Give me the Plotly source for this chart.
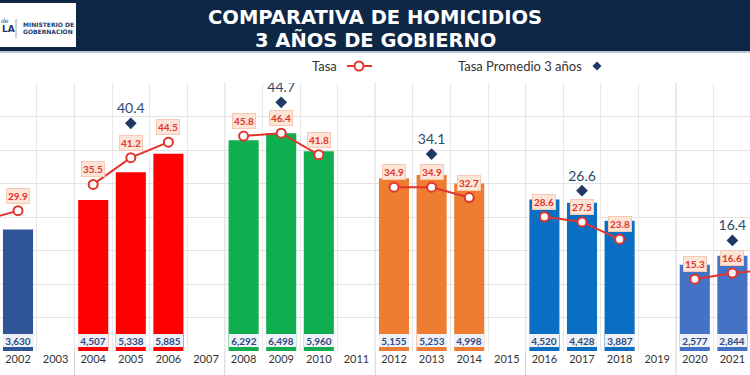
import plotly.graph_objects as go

# ---------------- data ----------------
years = [str(y) for y in range(2001, 2023)]
homicides = [None, 3630, None, 4507, 5338, 5885, None, 6292, 6498, 5960, None,
             5155, 5253, 4998, None, 4520, 4428, 3887, None, 2577, 2844, None]
rate = [27.6, 29.9, None, 35.5, 41.2, 44.5, None, 45.8, 46.4, 41.8, None,
        34.9, 34.9, 32.7, None, 28.6, 27.5, 23.8, None, 15.3, 16.6, 17.3]
avg_rate = [None, None, None, None, 40.4, None, None, None, 44.7, None, None,
            None, 34.1, None, None, None, 26.6, None, None, None, 16.4, None]
group_colors = ["#2F5597", "#2F5597", "#FFFFFF", "#FF0000", "#FF0000", "#FF0000", "#FFFFFF",
                "#0FAF4F", "#0FAF4F", "#0FAF4F", "#FFFFFF", "#EE7D31", "#EE7D31", "#EE7D31",
                "#FFFFFF", "#0A6FC2", "#0A6FC2", "#0A6FC2", "#FFFFFF", "#4472C4", "#4472C4", "#4472C4"]
separators = [2.5, 6.5, 10.5, 14.5, 18.5]

title_lines = ["COMPARATIVA DE HOMICIDIOS", "3 AÑOS DE GOBIERNO"]

# ---------------- geometry helpers ----------------
W, H = 750, 375
T, B = 83, 24
PH = H - T - B


def py(Y):
    return (H - B - Y) / PH


def px(X):
    return X / W


FONT = "Lato"
RED = "#E3342C"
NAVY = "#1F3864"

fig = go.Figure()
fig.add_trace(go.Bar(x=years, y=homicides, marker=dict(color=group_colors, line=dict(width=0)),
                     width=0.8, yaxis="y", hoverinfo="skip"))
fig.add_trace(go.Scatter(x=years, y=rate, yaxis="y2", mode="lines+markers", connectgaps=False,
                         line=dict(color=RED, width=2),
                         marker=dict(symbol="circle", size=9, color="white",
                                     line=dict(color=RED, width=2))))
fig.add_trace(go.Scatter(x=years, y=avg_rate, yaxis="y3", mode="markers+text",
                         marker=dict(symbol="diamond", size=9, color=NAVY),
                         text=[("%.1f" % v) if v is not None else "" for v in avg_rate],
                         textposition="top center",
                         textfont=dict(family=FONT, size=14, color="#2E4A6E")))

ann = []
# rate labels
for i, r in enumerate(rate):
    if r is None:
        continue
    ann.append(dict(x=i, y=r, xref="x", yref="y2", yshift=15, yanchor="middle", xanchor="center",
                    showarrow=False,
                    text="<b>%.1f</b>" % r, bgcolor="#FCE4D6", bordercolor="#F6C9B5",
                    borderwidth=1, borderpad=1,
                    font=dict(family=FONT, size=10, color="#E0352B")))
# bar value labels
for i, v in enumerate(homicides):
    if v is None:
        continue
    ann.append(dict(x=i, y=0, xref="x", yref="y", yanchor="bottom", xanchor="center", yshift=4,
                    showarrow=False,
                    text="<b>{:,}</b>".format(v), bgcolor="#EEF1F7", borderwidth=0, borderpad=0,
                    width=30, height=13,
                    font=dict(family=FONT, size=10, color="#2F4A80")))
# title
for k, yy in enumerate([17, 40]):
    ann.append(dict(x=0.5, y=py(yy), xref="paper", yref="paper", showarrow=False,
                    xanchor="center", yanchor="middle",
                    text="<b>%s</b>" % title_lines[k],
                    font=dict(family="DejaVu Sans", size=19.5, color="white")))
# logo texts
logo = [("<b>MINISTERIO DE</b>", 21, 24, 6, "left"), ("<b>GOBERNACIÓN</b>", 21, 31.5, 6, "left"),
        ("<b>LA</b>", 0, 29, 9, "left"), ("<i>de</i>", 11, 20, 6, "right")]
for txt, xx, yy, sz, anc in logo:
    ann.append(dict(x=px(xx), y=py(yy), xref="paper", yref="paper", xanchor=anc, yanchor="middle",
                    showarrow=False, text=txt,
                    font=dict(family="DejaVu Sans", size=sz, color="#1B3A6B")))
# legend texts
ann.append(dict(x=px(339), y=py(66), xref="paper", yref="paper", xanchor="right", yanchor="middle",
                showarrow=False, text="Tasa", font=dict(family=FONT, size=13, color="#333333")))
ann.append(dict(x=px(584), y=py(66), xref="paper", yref="paper", xanchor="right", yanchor="middle",
                showarrow=False, text="Tasa Promedio 3 años",
                font=dict(family=FONT, size=13, color="#333333")))

shapes = []
# header
shapes.append(dict(type="rect", xref="paper", yref="paper", x0=0, x1=1, y0=py(53), y1=py(0),
                   fillcolor="#B9C3D2", line=dict(width=0), layer="below"))
shapes.append(dict(type="rect", xref="paper", yref="paper", x0=0, x1=1, y0=py(51), y1=py(0),
                   fillcolor="#0E2747", line=dict(width=0), layer="below"))
shapes.append(dict(type="rect", xref="paper", yref="paper", x0=px(-2), x1=px(76), y0=py(47), y1=py(3),
                   fillcolor="white", line=dict(width=0), layer="below"))
shapes.append(dict(type="line", xref="paper", yref="paper", x0=px(16), x1=px(16), y0=py(38), y1=py(19),
                   line=dict(color="#9AA6B8", width=1), layer="below"))
# group separators
for s in separators:
    shapes.append(dict(type="line", xref="x", yref="paper", x0=s, x1=s, y0=py(375), y1=1,
                       line=dict(color="#D3D3D3", width=1), layer="below"))
# legend symbols
shapes.append(dict(type="line", xref="paper", yref="paper", x0=px(347), x1=px(372), y0=py(66), y1=py(66),
                   line=dict(color=RED, width=2)))
shapes.append(dict(type="circle", xref="paper", yref="paper", x0=px(354.5), x1=px(363.5),
                   y0=py(70.5), y1=py(61.5), fillcolor="white", line=dict(color=RED, width=2)))
cx, cy, d = 597, 66, 4.5
shapes.append(dict(type="path", xref="paper", yref="paper",
                   path="M %f,%f L %f,%f L %f,%f L %f,%f Z" % (px(cx), py(cy - d), px(cx + d), py(cy),
                                                               px(cx), py(cy + d), px(cx - d), py(cy)),
                   fillcolor=NAVY, line=dict(width=0)))

fig.update_layout(
    width=W, height=H, margin=dict(l=0, r=0, t=T, b=B),
    paper_bgcolor="white", plot_bgcolor="white", showlegend=False,
    bargap=0.2,
    xaxis=dict(type="category", categoryorder="array", categoryarray=years,
               range=[0.521, 20.468], tickson="boundaries", showgrid=True, gridcolor="#E8E8E8",
               gridwidth=1, ticks="", showline=False, zeroline=False, automargin=False,
               tickfont=dict(family=FONT, size=11, color="#333333")),
    yaxis=dict(range=[0, 8000], dtick=1000, showgrid=True, gridcolor="#E3E3E3", gridwidth=1,
               showticklabels=False, zeroline=False, showline=False, automargin=False),
    yaxis2=dict(range=[0, 57.1], overlaying="y", visible=False, showgrid=False),
    yaxis3=dict(range=[-6.25, 48.67], overlaying="y", visible=False, showgrid=False),
    annotations=ann, shapes=shapes,
)

fig.write_html("out.html", config={"displayModeBar": False},
               post_script="document.body.style.margin='0';document.body.style.overflow='hidden';")
